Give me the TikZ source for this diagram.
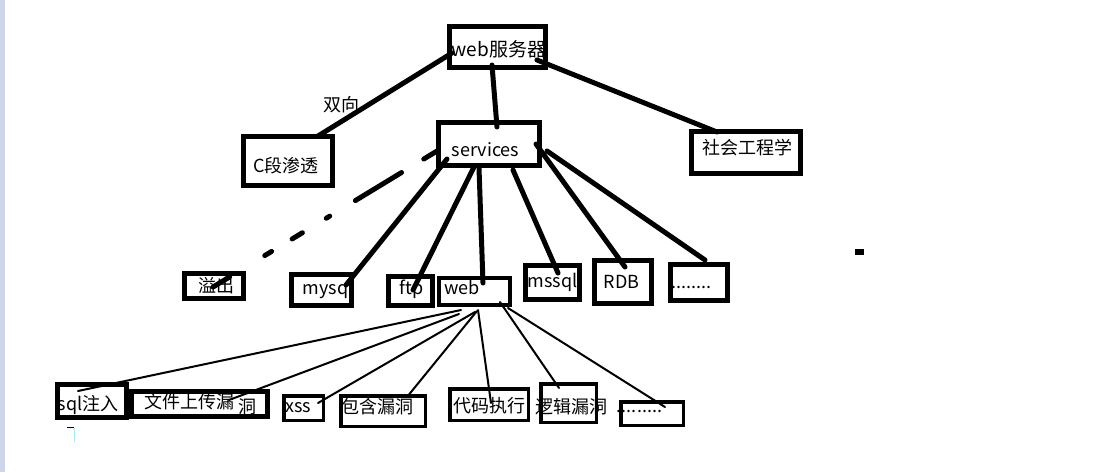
\documentclass[tikz,border=0pt]{standalone}
\usepackage{fontspec}
\newfontfamily\cjk{Noto Sans CJK SC}
\usetikzlibrary{calc}
\definecolor{stripc}{RGB}{205,214,230}
\definecolor{cursorc}{RGB}{170,235,245}
\tikzset{
  bx/.style={draw=black, line width=5pt, inner sep=0pt, rectangle},
  bxthin/.style={bx, line width=3.5pt},
  txt/.style={inner sep=0pt, text height=15.84pt, text depth=2.16pt, font=\cjk\fontsize{18}{20}\selectfont, text=black},
  thick line/.style={draw=black, line width=5pt, line cap=round},
  thin line/.style={draw=black, line width=2pt, line cap=round},
  dash line/.style={thick line, dash pattern=on 15.5pt off 26pt on 54pt off 30pt on 4pt off 28pt on 12pt off 24pt on 8pt off 41pt on 20pt off 100pt}
}
\begin{document}
\begin{tikzpicture}[x=1pt, y=-1pt]
\useasboundingbox (0,0) rectangle (1120,472);
\fill[white] (0,0) rectangle (1120,472);
\fill[stripc] (0,0) rectangle (5,472);

% boxes
\node[bx, minimum width=96pt, minimum height=41pt] (websrv) at (497.5,47) {};
\node[bx, minimum width=101pt, minimum height=43pt] (services) at (489,144) {};
\node[bx, minimum width=89pt, minimum height=49pt] (cseg) at (288,161) {};
\node[bx, minimum width=109pt, minimum height=42pt] (social) at (746,152.5) {};
\node[bx, minimum width=59pt, minimum height=25pt] (overflow) at (214,286) {};
\node[bx, minimum width=60pt, minimum height=31pt] (mysq) at (321.5,290) {};
\node[bx, minimum width=44pt, minimum height=29pt] (ftp) at (410.5,291) {};
\node[bx, line width=4pt, minimum width=71pt, minimum height=27pt] (web) at (474.5,291.5) {};
\node[bx, minimum width=54pt, minimum height=34pt] (mssql) at (552.5,282.5) {};
\node[bx, minimum width=57pt, minimum height=43pt] (rdb) at (623,282) {};
\node[bx, minimum width=57pt, minimum height=36pt] (dotsa) at (699,282.5) {};
\node[bx, minimum width=69pt, minimum height=33pt] (sql) at (92,401) {};
\node[bx, minimum width=136pt, minimum height=25pt] (upload) at (199.5,404) {};
\node[bxthin, minimum width=39.5pt, minimum height=24.5pt] (xss) at (303.5,408) {};
\node[bxthin, minimum width=84.5pt, minimum height=30.5pt] (include) at (383,411) {};
\node[bxthin, minimum width=78.5pt, minimum height=31.5pt] (code) at (489,404.5) {};
\node[bxthin, minimum width=55.5pt, minimum height=38.5pt] (logic) at (568.5,403) {};
\node[bxthin, minimum width=62.5pt, minimum height=23.5pt] (dotsb) at (652,413.5) {};

% thick connectors from web server
\draw[thick line] ($(websrv)+(-45.5,6)$) -- ($(cseg)+(30,-25)$);
\draw[thick line] ($(websrv)+(-5.5,18)$) -- ($(services)+(8,-17)$);
\draw[thick line] ($(websrv)+(39.5,13)$) -- ($(social)+(-29,-20.5)$);

% thick connectors from services
\draw[thick line] ($(services)+(-42,15)$) -- ($(mysq)+(24.5,-5)$);
\draw[thick line] ($(services)+(-15,23)$) -- ($(ftp)+(2.5,-1)$);
\draw[thick line] ($(services)+(-10,24)$) -- ($(web)+(8.5,-8.5)$);
\draw[thick line] ($(services)+(24,26)$) -- ($(mssql)+(5.5,-9.5)$);
\draw[thick line] ($(services)+(47,0)$) -- ($(rdb)+(2,-15)$);
\draw[thick line] ($(services)+(58,7)$) -- ($(dotsa)+(6,-22.5)$);
\draw[dash line] ($(services)+(-52,7)$) -- ($(overflow)+(-1,1)$);

% thin connectors from web
\draw[thin line] ($(web)+(-13.5,18.5)$) -- ($(sql)+(-14,-10)$);
\draw[thin line] ($(web)+(-15.5,22.5)$) -- ($(upload)+(29.5,-4)$);
\draw[thin line] ($(web)+(0.5,20.5)$) -- ($(xss)+(14.5,-5)$);
\draw[thin line] ($(web)+(2.5,19.5)$) -- ($(include)+(24,-14)$);
\draw[thin line] ($(web)+(3.5,18.5)$) -- ($(code)+(2,-1.5)$);
\draw[thin line] ($(web)+(25.5,10.5)$) -- ($(logic)+(-9.5,-15)$);
\draw[thin line] ($(web)+(33.5,16.5)$) -- ($(dotsb)+(13,-6.5)$);

% texts
\node[txt, font=\cjk\fontsize{19}{21}\selectfont] (t-websrv) at (499,50) {web服务器};
\node[txt] (t-services) at (485.5,150) {services};
\node[txt] (t-cseg) at (286,166) {C段渗透};
\node[txt] (t-social) at (747.5,147.5) {社会工程学};
\node[txt] (t-twoway) at (341,105) {双向};
\node[txt] (t-overflow) at (216,286) {溢出};
\node[txt] (t-mysq) at (325.5,288) {mysq};
\node[txt] (t-ftp) at (411.5,288) {ftp};
\node[txt] (t-web) at (462,288) {web};
\node[txt] (t-mssql) at (552.5,281) {mssql};
\node[txt] (t-rdb) at (621.5,282) {RDB};
\node[txt] (t-dotsa) at (691.5,282) {........};
\node[txt] (t-sql) at (88,404) {sql注入};
\node[txt] (t-upload) at (189,402) {文件上传漏};
\node[txt] (t-upload2) at (247.5,407) {洞};
\node[txt] (t-xss) at (298.5,406) {xss};
\node[txt] (t-include) at (377,407) {包含漏洞};
\node[txt] (t-code) at (489,406) {代码执行};
\node[txt] (t-logic) at (571,407) {逻辑漏洞};
\node[txt] (t-dotsb) at (639.5,406) {.........};

% stray marks
\fill[black] (855,249) rectangle (864,255);
\draw[black, line width=1pt] (67,427.5) -- (74,427.5);
\draw[cursorc, line width=1pt] (74,427.5) -- (74,442);
\end{tikzpicture}
\end{document}
